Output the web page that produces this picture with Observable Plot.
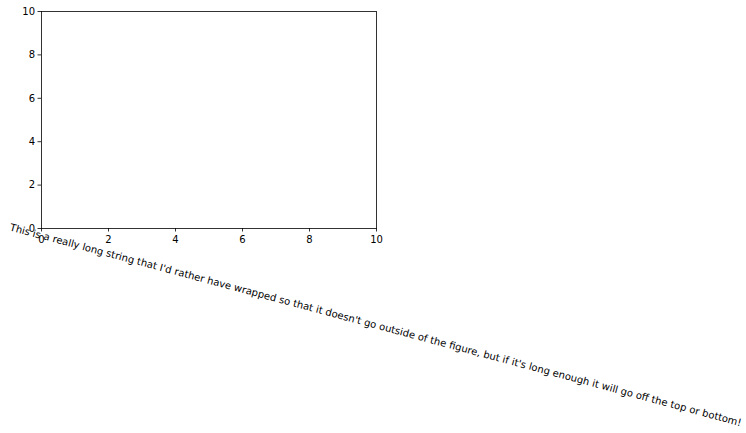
<!DOCTYPE html>
<html>
<head>
<meta charset="utf-8">
<script src="https://cdn.jsdelivr.net/npm/d3@7"></script>
<script src="https://cdn.jsdelivr.net/npm/@observablehq/plot@0.6"></script>
<style>
  html, body { margin: 0; padding: 0; background: #fff; }
</style>
</head>
<body>
<div id="chart"></div>
<script>
const xTicks = [0, 2, 4, 6, 8, 10];
const yTicks = [0, 2, 4, 6, 8, 10];
const xDomain = [0, 10];
const yDomain = [0, 10];
const noteText = ["This is a really long string that I'd rather have wrapped so that it doesn't go outside of the figure, but if it's long enough it will go off the top or bottom!"];
const noteX = -1;
const noteY = 0;
const noteRotation = 15;

const chart = Plot.plot({
  width: 746,
  height: 433,
  marginLeft: 41,
  marginRight: 370,
  marginTop: 11,
  marginBottom: 205,
  style: { fontFamily: "DejaVu Sans", fontSize: "10px", color: "#000", background: "#fff", overflow: "visible" },
  x: { domain: xDomain, ticks: xTicks, tickSize: 3.5, tickPadding: 4, label: null },
  y: { domain: yDomain, ticks: yTicks, tickSize: 3.5, tickPadding: 3, label: null },
  marks: [
    Plot.frame({ stroke: "#000", strokeWidth: 0.8 }),
    Plot.axisX({ ticks: xTicks, tickSize: 3.5, tickPadding: 4, label: null, fontSize: 10, strokeWidth: 0.8 }),
    Plot.axisY({ ticks: yTicks, tickSize: 3.5, tickPadding: 3, label: null, fontSize: 10, strokeWidth: 0.8 }),
    Plot.text(noteText, {
      x: () => noteX,
      y: () => noteY,
      text: d => d,
      rotate: noteRotation,
      textAnchor: "start",
      lineAnchor: "bottom",
      lineWidth: Infinity,
      dx: 1.3,
      dy: 1.8,
      fontSize: 10,
      fill: "#000",
      clip: false
    })
  ]
});
document.getElementById("chart").appendChild(chart);
</script>
</body>
</html>
